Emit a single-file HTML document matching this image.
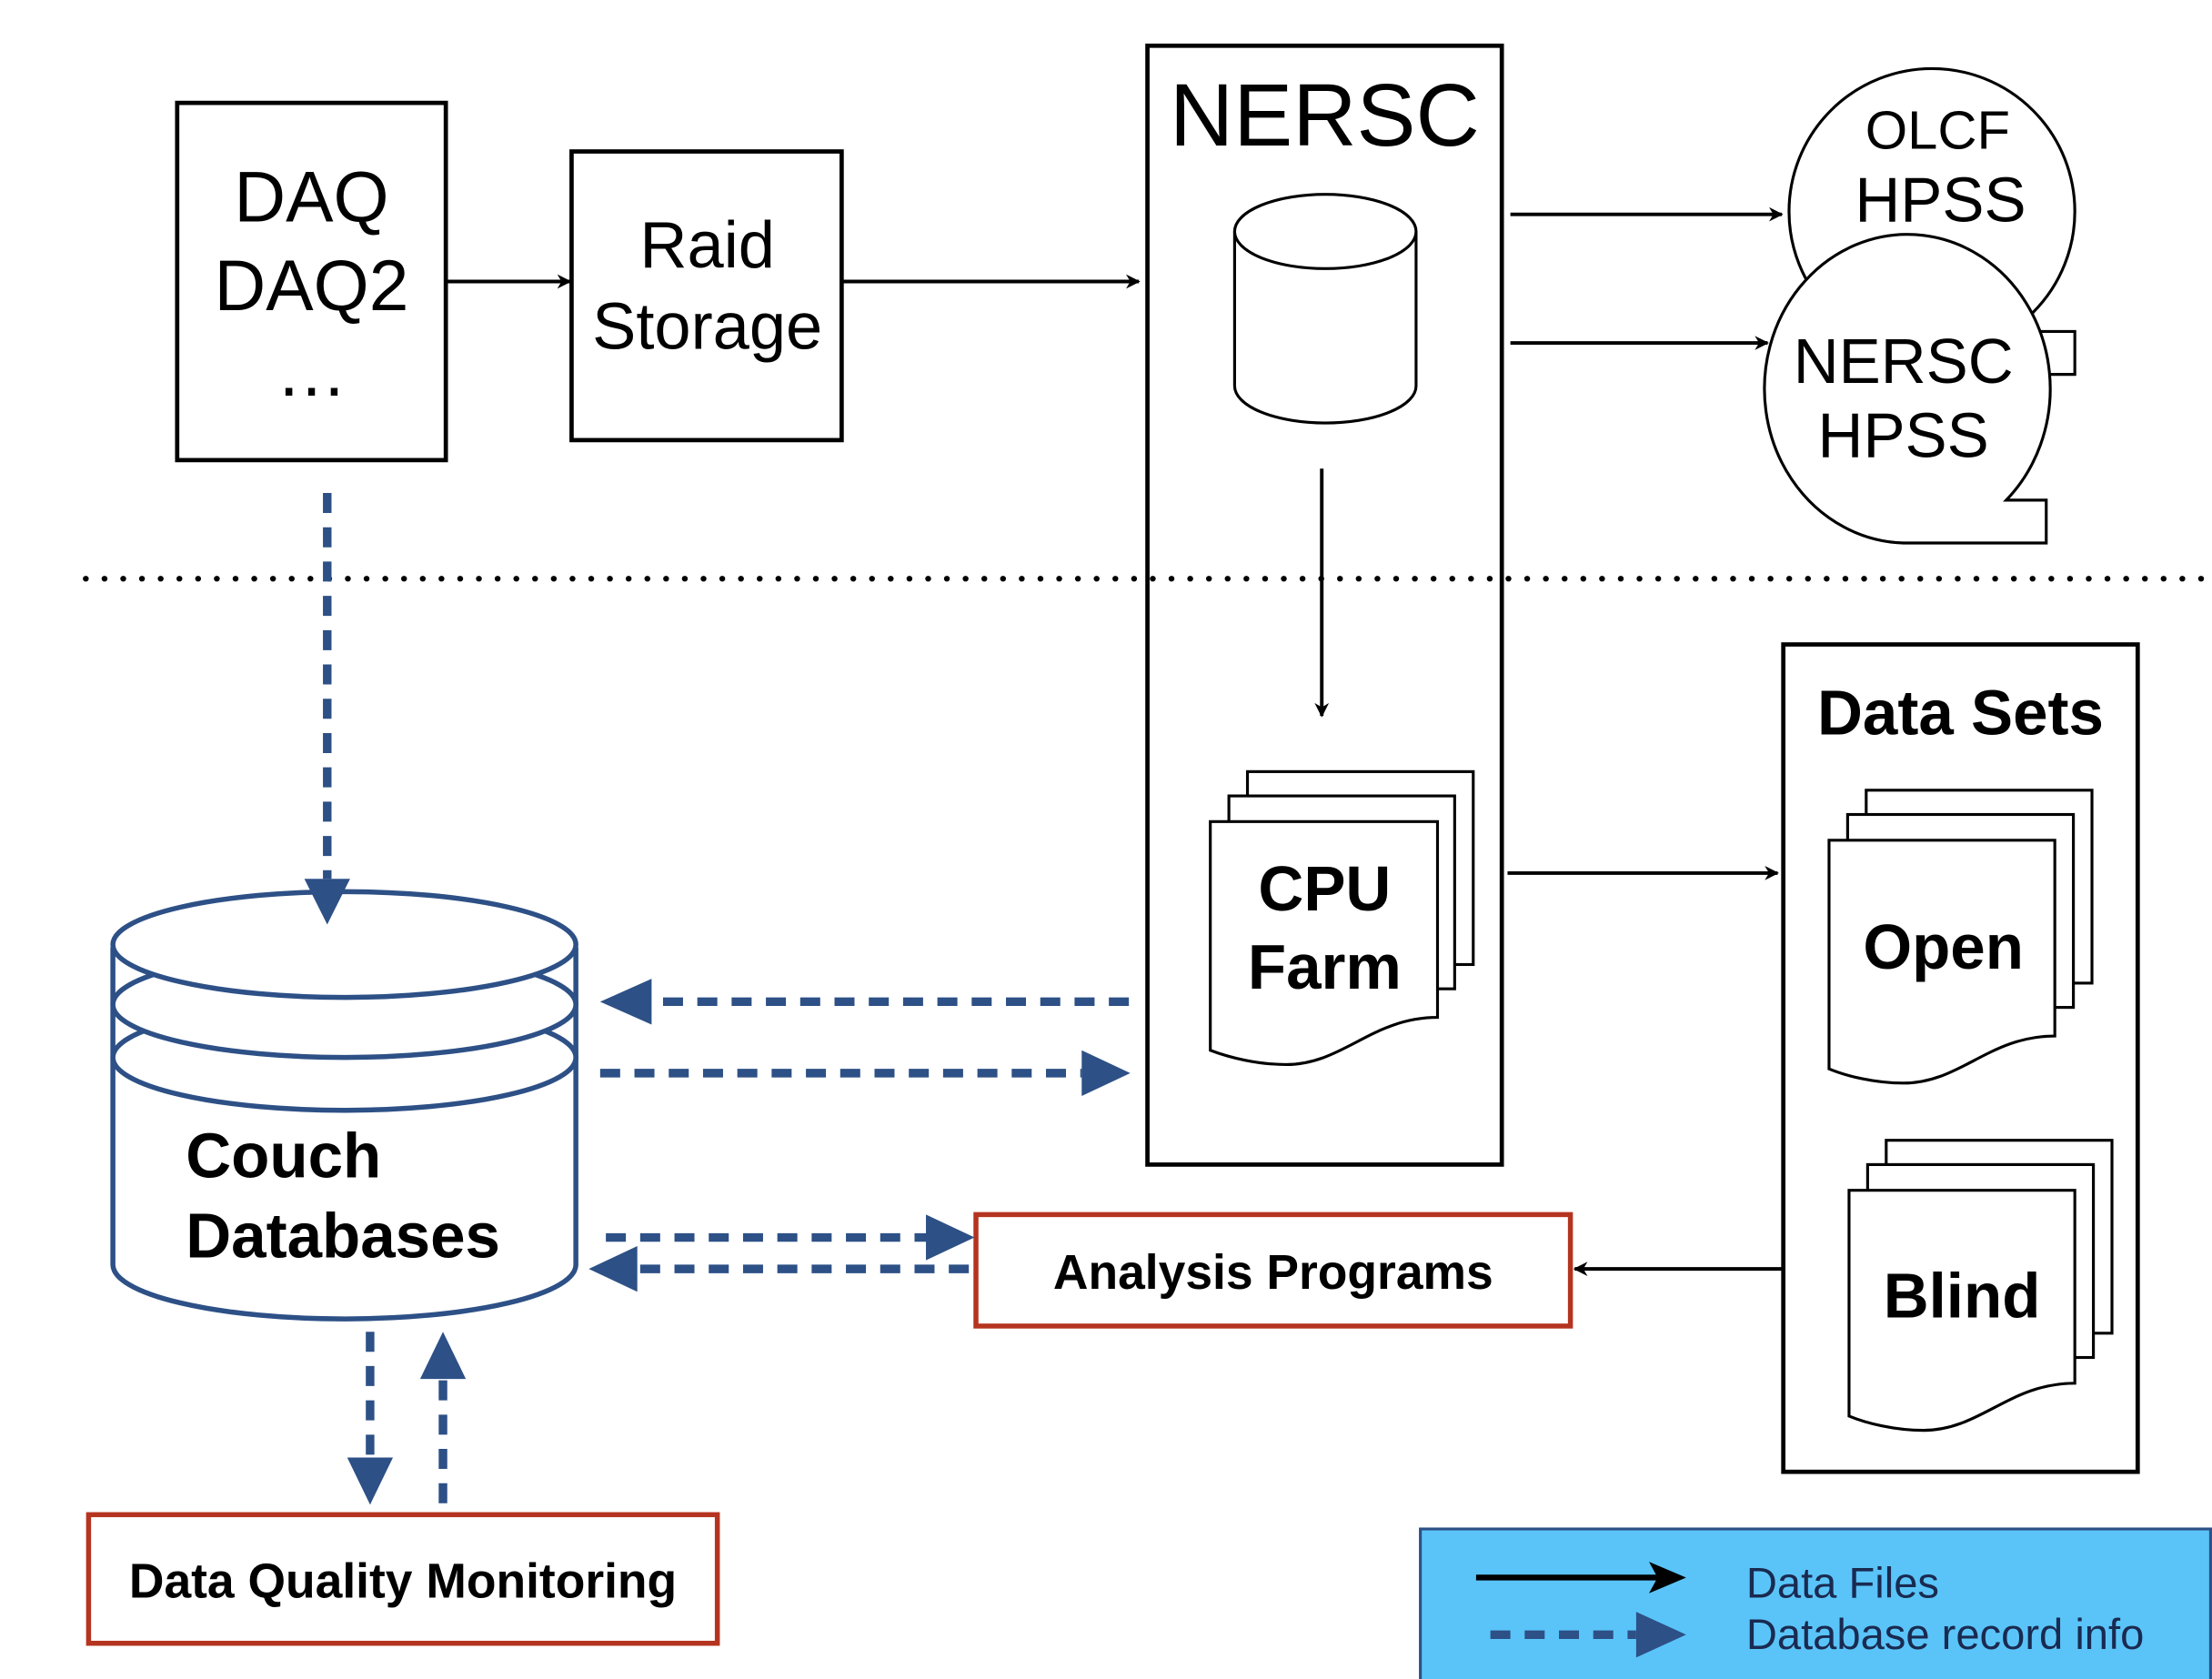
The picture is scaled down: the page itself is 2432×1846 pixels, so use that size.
<!DOCTYPE html>
<html><head><style>html,body{margin:0;padding:0;background:#fff}svg{display:block}</style></head>
<body>
<svg width="2432" height="1846" viewBox="0 0 1548 1175" xmlns="http://www.w3.org/2000/svg" font-family="Liberation Sans, sans-serif">
<defs>
<marker id="ab" markerWidth="10" markerHeight="10" refX="9" refY="5" orient="auto" markerUnits="userSpaceOnUse"><path d="M0,0 L10,5 L0,10 L3,5 Z" fill="#000"/></marker>
</defs>
<!-- DAQ -->
<rect x="124" y="72" width="188" height="250" fill="none" stroke="#000" stroke-width="3"/>
<text x="218" y="155" font-size="50" text-anchor="middle">DAQ</text>
<text x="218" y="217" font-size="50" text-anchor="middle">DAQ2</text>
<text x="218" y="277" font-size="50" text-anchor="middle">…</text>
<rect x="400" y="106" width="189" height="202" fill="none" stroke="#000" stroke-width="3"/>
<text x="495" y="187" font-size="46" text-anchor="middle">Raid</text>
<text x="495" y="244" font-size="46" text-anchor="middle">Storage</text>
<g stroke="#000" stroke-width="2.5" fill="none" marker-end="url(#ab)">
<line x1="312" y1="197" x2="399" y2="197"/>
<line x1="589" y1="197" x2="797" y2="197"/>
<line x1="925" y1="328" x2="925" y2="501"/>
<line x1="1057" y1="150" x2="1247" y2="150"/>
<line x1="1057" y1="240" x2="1237" y2="240"/>
<line x1="1055" y1="611" x2="1244" y2="611"/>
<line x1="1248" y1="888" x2="1102" y2="888"/>
</g>
<!-- NERSC -->
<rect x="803" y="32" width="248" height="783" fill="none" stroke="#000" stroke-width="3"/>
<text x="927" y="102" font-size="62" text-anchor="middle">NERSC</text>
<path d="M864,162 V270 A63.5,26 0 0 0 991,270 V162" fill="#fff" stroke="#000" stroke-width="2"/>
<ellipse cx="927.5" cy="162" rx="63.5" ry="26" fill="#fff" stroke="#000" stroke-width="2"/>
<!-- doc stacks -->
<g fill="#fff" stroke="#000" stroke-width="2">
<rect x="873" y="540" width="158" height="135"/>
<rect x="860" y="557" width="158" height="135"/>
<path d="M847,575 H1006 V712 C960,712 940,745 900,745 C880,745 860,740 847,735 Z"/>
<rect x="1306" y="553" width="158" height="135"/>
<rect x="1293" y="570" width="158" height="135"/>
<path d="M1280,588 H1438 V725 C1392,725 1372,758 1332,758 C1312,758 1292,753 1280,748 Z"/>
<rect x="1320" y="798" width="158" height="135"/>
<rect x="1307" y="815" width="158" height="135"/>
<path d="M1294,833 H1452 V968 C1406,968 1386,1001 1346,1001 C1326,1001 1306,996 1294,991 Z"/>
</g>
<text x="927" y="637" font-size="44" font-weight="bold" text-anchor="middle">CPU</text>
<text x="927" y="692" font-size="44" font-weight="bold" text-anchor="middle">Farm</text>
<text x="1360" y="678" font-size="44" font-weight="bold" text-anchor="middle">Open</text>
<text x="1373" y="922" font-size="44" font-weight="bold" text-anchor="middle">Blind</text>
<!-- dotted -->
<line x1="60" y1="405" x2="1548" y2="405" stroke="#000" stroke-width="4" stroke-dasharray="0.1 13" stroke-linecap="round"/>
<!-- HPSS -->
<path d="M1425,232 L1452,232 L1452,262 L1425,262 Z" fill="#fff" stroke="#000" stroke-width="2"/>
<circle cx="1352" cy="148" r="100" fill="#fff" stroke="#000" stroke-width="2"/>
<text x="1356" y="104" font-size="38" text-anchor="middle">OLCF</text>
<text x="1358" y="155" font-size="44" text-anchor="middle">HPSS</text>
<path d="M1404,350 A100,108 0 1 0 1332,380 L1432,380 L1432,350 Z" fill="#fff" stroke="#000" stroke-width="2"/>
<text x="1332" y="268" font-size="44" text-anchor="middle">NERSC</text>
<text x="1332" y="320" font-size="44" text-anchor="middle">HPSS</text>
<!-- Data sets -->
<rect x="1248" y="451" width="248" height="579" fill="none" stroke="#000" stroke-width="3"/>
<text x="1372" y="514" font-size="44" font-weight="bold" text-anchor="middle">Data Sets</text>
<!-- red boxes -->
<rect x="683" y="850" width="416" height="78" fill="none" stroke="#b5341f" stroke-width="3.5"/>
<text x="891" y="902" font-size="34" font-weight="bold" text-anchor="middle">Analysis Programs</text>
<rect x="62" y="1060" width="440" height="90" fill="none" stroke="#b5341f" stroke-width="3.5"/>
<text x="282" y="1118" font-size="34" font-weight="bold" text-anchor="middle">Data Quality Monitoring</text>
<!-- couch -->
<g stroke="#2d5086" stroke-width="3.5" fill="#fff">
<path d="M79,663 V885 A162,38 0 0 0 403,885 V663"/>
<ellipse cx="241" cy="740" rx="162" ry="37"/>
<ellipse cx="241" cy="703" rx="162" ry="37"/>
<ellipse cx="241" cy="661" rx="162" ry="37"/>
</g>
<text x="130" y="824" font-size="44" font-weight="bold">Couch</text>
<text x="130" y="880" font-size="44" font-weight="bold">Databases</text>
<!-- blue dashed -->
<g stroke="#2d5086" stroke-width="6" stroke-dasharray="14 10" fill="none">
<line x1="229" y1="345" x2="229" y2="615"/>
<line x1="790" y1="701" x2="456" y2="701"/>
<line x1="420" y1="751" x2="757" y2="751"/>
<line x1="424" y1="866" x2="650" y2="866"/>
<line x1="678" y1="888" x2="446" y2="888"/>
<line x1="259" y1="932" x2="259" y2="1020"/>
<line x1="310" y1="1052" x2="310" y2="965"/>
</g>
<g fill="#2d5086">
<path d="M213,615 L245,615 L229,647 Z"/>
<path d="M456,685 L456,717 L420,701 Z"/>
<path d="M757,735 L757,767 L791,751 Z"/>
<path d="M648,850 L648,882 L682,866 Z"/>
<path d="M446,872 L446,904 L412,888 Z"/>
<path d="M243,1020 L275,1020 L259,1053 Z"/>
<path d="M294,965 L326,965 L310,932 Z"/>
</g>
<!-- legend -->
<rect x="994" y="1070" width="553" height="110" fill="#5ac4f8" stroke="#2d5086" stroke-width="2"/>
<line x1="1033" y1="1104" x2="1160" y2="1104" stroke="#000" stroke-width="4"/>
<path d="M1154,1093 L1180,1104 L1154,1115 L1160,1104 Z" fill="#000"/>
<line x1="1043" y1="1144" x2="1145" y2="1144" stroke="#2d5086" stroke-width="6" stroke-dasharray="14 10"/>
<path d="M1145,1128 L1145,1160 L1180,1144 Z" fill="#2d5086"/>
<text x="1222" y="1118" font-size="30" fill="#1a2a50">Data Files</text>
<text x="1222" y="1154" font-size="30" fill="#1a2a50">Database record info</text>
</svg>
</body></html>
